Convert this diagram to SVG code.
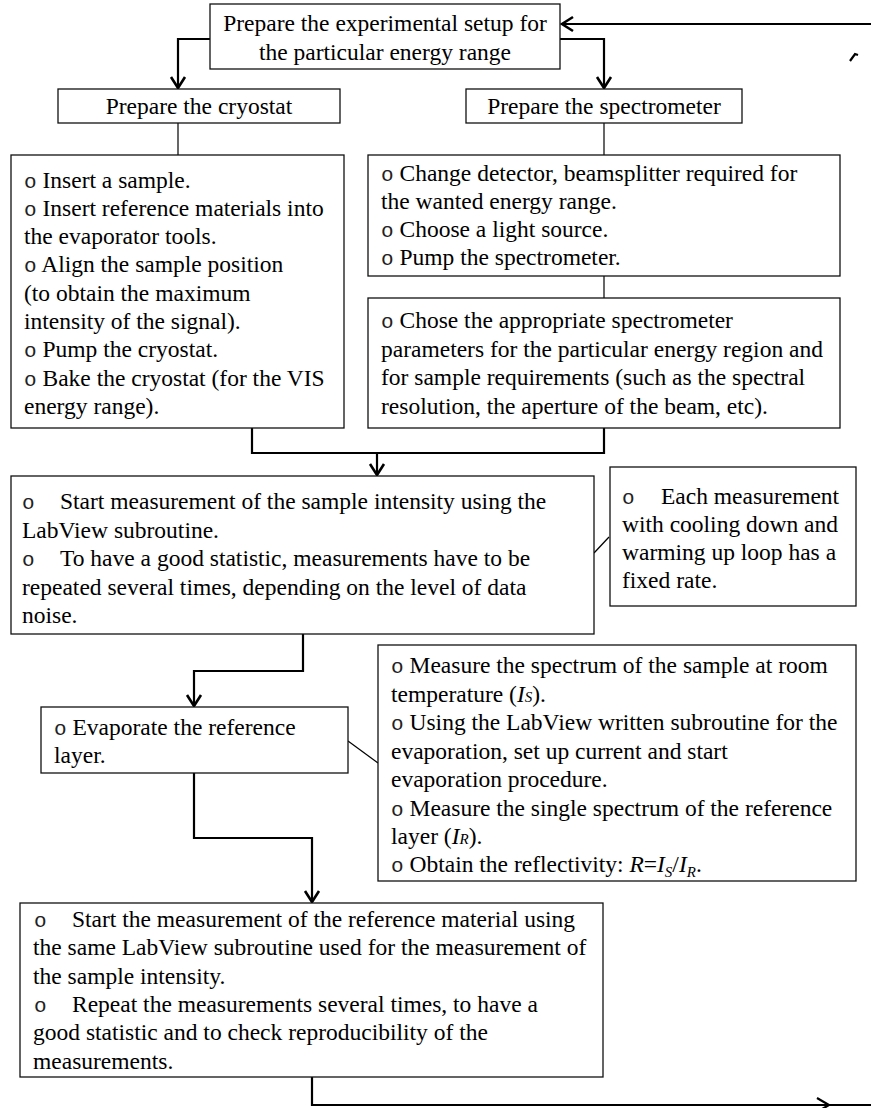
<svg xmlns="http://www.w3.org/2000/svg" width="871" height="1108" viewBox="0 0 871 1108">
<style>
rect.box{fill:#fff;stroke:#111;stroke-width:1.3}
text{font-family:"Liberation Serif","Times New Roman",serif;font-size:23.5px;fill:#000}
.c{text-anchor:middle}
.b{font-family:"Liberation Mono","Courier New",monospace;font-size:21px;fill:#222}
.i{font-style:italic}
.sm{font-size:15px;font-style:italic}
.thick{fill:none;stroke:#000;stroke-width:2.2}
.thin{fill:none;stroke:#000;stroke-width:1.2}
</style>
<defs>
<marker id="ah" markerUnits="userSpaceOnUse" viewBox="-14 -9 16 18" refX="0" refY="0" markerWidth="16" markerHeight="18" orient="auto">
<path d="M-11,-7 L0,0 L-11,7" fill="none" stroke="#000" stroke-width="2.6"/>
</marker>
</defs>
<g id="connectors">
<path class="thick" d="M871,24 H562" marker-end="url(#ah)"/>
<path class="thick" d="M210,39 H178 V88" marker-end="url(#ah)"/>
<path class="thick" d="M560,39 H604 V88" marker-end="url(#ah)"/>
<path class="thin" d="M178,123 V155"/>
<path class="thin" d="M604,123 V155"/>
<path class="thin" d="M604,276 V298"/>
<path class="thick" d="M252,428 V453 H604 V428"/>
<path class="thick" d="M377,453 V475" marker-end="url(#ah)"/>
<path class="thin" d="M594,553 L609,537"/>
<path class="thick" d="M303,634 V671 H194 V706" marker-end="url(#ah)"/>
<path class="thin" d="M348,741 L378,763"/>
<path class="thick" d="M194,773 V838 H312 V902" marker-end="url(#ah)"/>
<path class="thick" d="M312,1077 V1105 H871"/>
<path class="thick" d="M817,1098 L829,1105 L817,1112"/>
<path class="thick" d="M850,61 L855,54 L858,55"/>
</g>
<g id="n-setup">
<rect class="box" x="210" y="4" width="350" height="65"/>
<text class="c" x="385" y="31">Prepare the experimental setup for</text>
<text class="c" x="385" y="60">the particular energy range</text>
</g>
<g id="n-cryostat">
<rect class="box" x="58" y="89" width="282" height="34"/>
<text class="c" x="199" y="114">Prepare the cryostat</text>
</g>
<g id="n-spectrometer">
<rect class="box" x="466" y="89" width="276" height="34"/>
<text class="c" x="604" y="114">Prepare the spectrometer</text>
</g>
<g id="n-cryo-steps">
<rect class="box" x="11" y="155" width="333" height="273"/>
<text x="24" y="187.5"><tspan class="b">o</tspan> Insert a sample.</text>
<text x="24" y="215.8"><tspan class="b">o</tspan> Insert reference materials into</text>
<text x="24" y="244.1">the evaporator tools.</text>
<text x="24" y="272.4"><tspan class="b">o</tspan> Align the sample position</text>
<text x="24" y="300.7">(to obtain the maximum</text>
<text x="24" y="329">intensity of the signal).</text>
<text x="24" y="357.3"><tspan class="b">o</tspan> Pump the cryostat.</text>
<text x="24" y="385.6"><tspan class="b">o</tspan> Bake the cryostat (for the VIS</text>
<text x="24" y="413.9">energy range).</text>
</g>
<g id="n-spec-steps">
<rect class="box" x="368" y="155" width="472" height="121"/>
<text x="381" y="181"><tspan class="b">o</tspan> Change detector, beamsplitter required for</text>
<text x="381" y="209">the wanted energy range.</text>
<text x="381" y="237"><tspan class="b">o</tspan> Choose a light source.</text>
<text x="381" y="265"><tspan class="b">o</tspan> Pump the spectrometer.</text>
</g>
<g id="n-spec-params">
<rect class="box" x="368" y="298" width="472" height="130"/>
<text x="381" y="328"><tspan class="b">o</tspan> Chose the appropriate spectrometer</text>
<text x="381" y="356.5">parameters for the particular energy region and</text>
<text x="381" y="385">for sample requirements (such as the spectral</text>
<text x="381" y="413.5">resolution, the aperture of the beam, etc).</text>
</g>
<g id="n-measure-sample">
<rect class="box" x="11" y="476" width="583" height="158"/>
<text x="22" y="509"><tspan class="b">o</tspan><tspan x="60">Start measurement of the sample intensity using the</tspan></text>
<text x="22" y="537.5">LabView subroutine.</text>
<text x="22" y="566"><tspan class="b">o</tspan><tspan x="60">To have a good statistic, measurements have to be</tspan></text>
<text x="22" y="594.5">repeated several times, depending on the level of data</text>
<text x="22" y="623">noise.</text>
</g>
<g id="n-note">
<rect class="box" x="610" y="467" width="246" height="139"/>
<text x="622" y="504"><tspan class="b">o</tspan><tspan x="661">Each measurement</tspan></text>
<text x="622" y="532">with cooling down and</text>
<text x="622" y="560">warming up loop has a</text>
<text x="622" y="588">fixed rate.</text>
</g>
<g id="n-evaporate">
<rect class="box" x="41" y="707" width="307" height="66"/>
<text x="54" y="735"><tspan class="b">o</tspan> Evaporate the reference</text>
<text x="54" y="763">layer.</text>
</g>
<g id="n-spectrum">
<rect class="box" x="378" y="645" width="478" height="236"/>
<text x="391" y="673"><tspan class="b">o</tspan> Measure the spectrum of the sample at room</text>
<text x="391" y="701.5">temperature  (<tspan class="i">I</tspan><tspan class="sm">S</tspan>).</text>
<text x="391" y="730"><tspan class="b">o</tspan> Using the LabView written subroutine for the</text>
<text x="391" y="758.5">evaporation, set up current and start</text>
<text x="391" y="787">evaporation procedure.</text>
<text x="391" y="815.5"><tspan class="b">o</tspan> Measure the single spectrum of the reference</text>
<text x="391" y="844">layer (<tspan class="i">I</tspan><tspan class="sm">R</tspan>).</text>
<text x="391" y="872"><tspan class="b">o</tspan> Obtain the reflectivity: <tspan class="i">R</tspan>=<tspan class="i">I</tspan><tspan class="sm" dy="5">S</tspan><tspan dy="-5">/</tspan><tspan class="i">I</tspan><tspan class="sm" dy="5">R</tspan><tspan dy="-5">.</tspan></text>
</g>
<g id="n-measure-reference">
<rect class="box" x="20" y="903" width="583" height="174"/>
<text x="34" y="927"><tspan class="b">o</tspan><tspan x="72">Start the measurement of the reference material using</tspan></text>
<text x="33" y="955.3">the same LabView subroutine used for the measurement of</text>
<text x="33" y="983.6">the sample intensity.</text>
<text x="34" y="1011.9"><tspan class="b">o</tspan><tspan x="72">Repeat the measurements several times, to have a</tspan></text>
<text x="33" y="1040.2">good statistic and to check reproducibility of the</text>
<text x="33" y="1068.5">measurements.</text>
</g>
</svg>
